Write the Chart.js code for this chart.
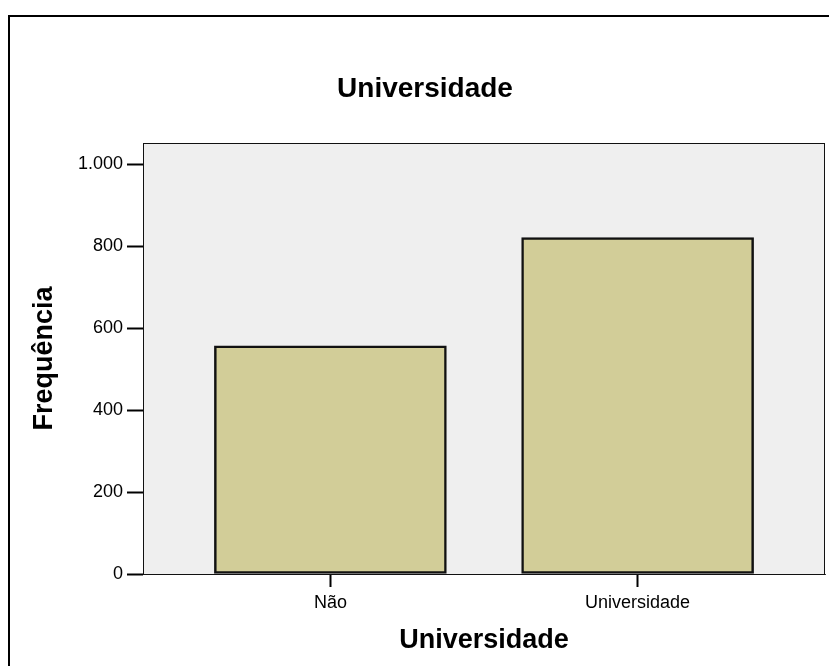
<!DOCTYPE html>
<html>
<head>
<meta charset="utf-8">
<script src="https://cdn.jsdelivr.net/npm/chart.js@4.4.0/dist/chart.umd.min.js"></script>
<style>
  body { margin: 0; background: #fff; }
  #wrap { width: 829px; height: 666px; }
</style>
</head>
<body>
<div id="wrap"><canvas id="myChart" width="829" height="666"></canvas></div>
<script>
// data
const categories = ['Não', 'Universidade'];
const frequencies = [557, 821];
const yTicks = [0, 200, 400, 600, 800, 1000];

const FONT = "'Liberation Sans', Arial, Helvetica, sans-serif";

// thousands with a dot, like "1.000"
function fmt(v) {
  return String(v).replace(/\B(?=(\d{3})+(?!\d))/g, '.');
}

// gray plot background + thin frame, and the big outer frame
const backdrop = {
  id: 'backdrop',
  beforeDraw(chart) {
    const { ctx, chartArea: a } = chart;
    ctx.save();
    ctx.fillStyle = '#efefef';
    ctx.fillRect(a.left, a.top, a.right - a.left, a.bottom - a.top);
    ctx.strokeStyle = '#000';
    ctx.lineWidth = 2;
    ctx.strokeRect(9, 16, 900, 700);
    ctx.restore();
  },
  afterDatasetsDraw(chart) {
    const { ctx, chartArea: a } = chart;
    ctx.save();
    ctx.strokeStyle = '#111';
    ctx.lineWidth = 1;
    ctx.strokeRect(a.left + 0.5, a.top + 0.5, a.right - a.left - 1, a.bottom - a.top);
    ctx.restore();
  }
};

const ctx = document.getElementById('myChart').getContext('2d');
new Chart(ctx, {
  type: 'bar',
  data: {
    datasets: [{
      data: categories.map((c, i) => ({ x: i, y: frequencies[i] })),
      backgroundColor: '#d2cd98',
      borderColor: '#111',
      borderWidth: 2.5,
      borderSkipped: false,
      barThickness: 232
    }]
  },
  options: {
    responsive: false,
    animation: false,
    layout: { padding: { left: 25, right: 4, top: 0, bottom: 0 } },
    plugins: {
      legend: { display: false },
      tooltip: { enabled: false },
      title: {
        display: true,
        text: 'Universidade',
        color: '#000',
        font: { family: FONT, size: 28, weight: 'bold' },
        padding: { top: 72, bottom: 37.4 }
      }
    },
    scales: {
      x: {
        type: 'linear',
        offset: false,
        min: -0.61,
        max: 1.61,
        afterFit(scale) { scale.height = 92; },
        afterBuildTicks(scale) { scale.ticks = categories.map((c, i) => ({ value: i })); },
        ticks: {
          color: '#000',
          padding: 5,
          font: { family: FONT, size: 18 },
          callback: (v) => categories[v]
        },
        grid: {
          offset: false,
          drawOnChartArea: false,
          drawTicks: true,
          tickLength: 13,
          tickWidth: 2,
          tickColor: '#000'
        },
        border: { display: true, color: '#333', width: 1 },
        title: {
          display: true,
          text: 'Universidade',
          color: '#000',
          font: { family: FONT, size: 27, weight: 'bold' },
          padding: { top: 0, bottom: 9 }
        }
      },
      y: {
        min: 0,
        max: 1052,
        afterFit(scale) { scale.width = 118; },
        afterBuildTicks(scale) { scale.ticks = yTicks.map(v => ({ value: v })); },
        ticks: {
          color: '#000',
          padding: 4,
          font: { family: FONT, size: 18 },
          callback: (v) => fmt(v)
        },
        grid: {
          drawOnChartArea: false,
          drawTicks: true,
          tickLength: 16,
          tickWidth: 2,
          tickColor: '#000'
        },
        border: { display: true, color: '#111', width: 1 },
        title: {
          display: true,
          text: 'Frequência',
          color: '#000',
          font: { family: FONT, size: 27, weight: 'bold' },
          padding: { top: 3, bottom: 0 }
        }
      }
    }
  },
  plugins: [backdrop]
});
</script>
</body>
</html>
